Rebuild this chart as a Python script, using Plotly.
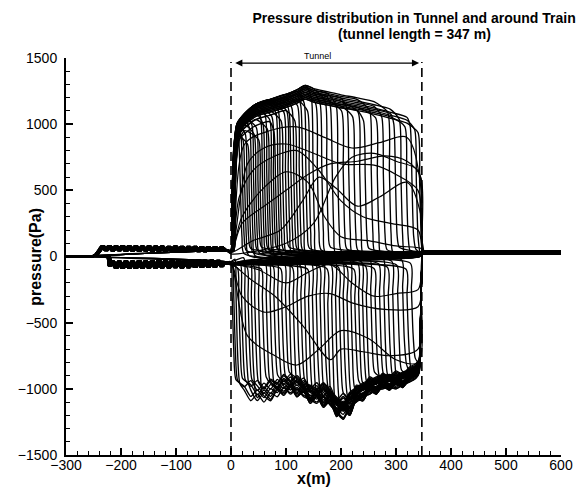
import plotly.graph_objects as go

# ---------------- text ----------------
title_line1 = "<b>Pressure distribution in Tunnel and around Train</b>"
title_line2 = "<b>(tunnel length = 347 m)</b>"
x_title = "<b>x(m)</b>"
y_title = "<b>pressure(Pa)</b>"
tunnel_label = "Tunnel"
x_ticks = [-300, -200, -100, 0, 100, 200, 300, 400, 500, 600]
y_ticks = [-1500, -1000, -500, 0, 500, 1000, 1500]
tunnel_start = 0
tunnel_end = 347
arrow_y = 1462
arrow_x = [5, 342]
dash_top = 1470

# ---------------- data ----------------
band_up_x = [-256, -248, -242, -236, -230, -224, -218, -212, -206, -200, -194, -188, -182, -176,
             -170, -164, -158, -152, -146, -140, -134, -128, -122, -116, -110, -104, -98, -92,
             -86, -80, -74, -68, -62, -56, -50, -44, -38, -32, -26, -20, -14, -8]
band_up_y = [0, 12, 45, 80, 45, 82, 42, 80, 44, 82, 40, 80, 42, 80,
             40, 78, 42, 80, 40, 78, 40, 78, 38, 76, 40, 78, 38, 76,
             38, 76, 40, 76, 38, 74, 38, 74, 40, 72, 40, 70, 50, 45]
band_lo_x = [-226, -223, -218, -212, -206, -200, -194, -188, -182, -176, -170, -164, -158, -152,
             -146, -140, -134, -128, -122, -116, -110, -104, -98, -92, -86, -80, -74, -68,
             -62, -56, -50, -44, -38, -32, -26, -20, -14, -8]
band_lo_y = [0, -70, -35, -88, -36, -90, -34, -88, -35, -90, -32, -88, -34, -86,
             -32, -88, -30, -86, -32, -86, -30, -84, -30, -86, -28, -84, -30, -82,
             -28, -82, -30, -80, -28, -80, -30, -76, -40, -55]
band_shift = [0, 1.5, 3, 4.5, 6, 0.8, 2.3, 3.8, 5.3]

top_x = [25, 45, 70, 100, 120, 135, 150, 175, 200, 230, 260, 290, 320, 340]
top_y = [1080, 1150, 1185, 1225, 1260, 1292, 1268, 1245, 1222, 1198, 1170, 1135, 1095, 1060]

up_front = [18, 22, 26, 30, 34, 38, 42, 46, 50, 54, 58, 62, 66, 70, 74, 78, 82, 86, 90, 95,
            100, 105, 110, 115, 120, 125, 131, 137, 143, 150, 158, 166, 175, 185, 195, 205, 215,
            225, 235, 245, 256, 267, 278, 289, 300, 310, 320, 330, 338, 344]
up_scale = [0.95, 0.97, 0.93, 0.98, 0.90, 0.96, 0.99, 0.92, 0.97, 0.88, 0.98, 0.94, 1.00, 0.90,
            0.97, 0.99, 0.86, 0.98, 1.00, 0.93, 0.99, 1.00, 0.95, 0.98, 0.90, 1.00, 0.97, 0.99,
            0.94, 1.00, 0.96, 0.98, 1.00, 0.97, 0.99, 0.95, 0.98, 0.93, 0.96, 0.92, 0.99, 0.94,
            0.97, 1.00, 0.95, 0.98, 0.93, 0.96, 0.94, 0.92]
up_post = [20, 45, 10, 60, 30, 5, 50, 25, 70, 15, 40, 55]
up_rise = [0, 1, 2, 3, 1, 4, 2, 0, 3, 5]

bot_x = [0, 12, 24, 36, 48, 60, 72, 84, 96, 108, 120, 132, 144, 156, 168, 180, 192, 204, 216,
         228, 240, 252, 264, 276, 288, 300, 312, 324, 336, 342]
bot_y_a = [-960, -1050, -1010, -1090, -1040, -1100, -1030, -1060, -990, -1040, -1000, -1060,
           -1080, -1110, -1060, -1120, -1180, -1230, -1140, -1100, -1060, -1040, -1010, -1000,
           -990, -1000, -970, -950, -920, -880]
bot_y_b = [-980, -1010, -1070, -1020, -1100, -1040, -1090, -1010, -1050, -990, -1060, -1020,
           -1110, -1060, -1140, -1090, -1210, -1150, -1200, -1080, -1090, -1010, -1040, -980,
           -1010, -960, -990, -930, -900, -860]
lo_front = [0, 3, 7, 12, 17, 23, 29, 35, 41, 48, 55, 62, 69, 76, 83, 90, 97, 104, 111, 118,
            125, 132, 139, 146, 153, 160, 167, 174, 181, 188, 195, 202, 209, 216, 223, 230, 237,
            244, 252, 260, 268, 276, 284, 292, 301, 310, 318, 326]
lo_scale = [0.97, 0.92, 1.00, 0.95, 0.90, 0.99, 0.94, 0.97, 0.91, 1.00, 0.93, 0.98, 0.95, 0.90,
            0.99, 0.96, 0.92, 1.00, 0.94, 0.97, 0.91, 0.99, 0.95, 0.93, 1.00, 0.96, 0.92, 0.98,
            0.94, 1.00, 0.95, 0.91, 0.98, 0.96, 0.93, 0.99, 0.95, 0.97, 0.92, 0.96, 0.94, 0.98,
            0.93, 0.97, 0.95, 0.92, 0.96, 0.94]
lo_pre = [-40, -70, -20, -90, -55, -10, -80, -35, -65, -25, -95, -50]

exit_level = [22, 30, 38, 28, 34, 26, 40]
exit_x = [352, 365, 400, 450, 500, 550, 600]

mid_curves = [
    ([-8, 0, 20, 60, 100, 140, 180, 230, 280, 320, 345],
     [40, 30, 250, 380, 500, 620, 700, 720, 760, 720, 600]),
    ([-8, 0, 15, 40, 80, 120, 160, 200, 240, 290, 340],
     [40, 30, 450, 650, 760, 800, 650, 420, 300, 250, 200]),
    ([-8, 0, 20, 60, 100, 140, 170, 200, 250, 300, 346],
     [40, 30, 300, 520, 640, 560, 300, 150, 120, 80, 60]),
    ([-8, 0, 100, 150, 190, 220, 260, 300, 340, 346],
     [40, 20, 100, 250, 600, 750, 780, 720, 650, 300]),
    ([-8, 0, 30, 60, 100, 150, 200, 260, 300, 340, 346],
     [40, 30, 700, 820, 850, 780, 700, 690, 620, 500, 250]),
    ([-8, 0, 35, 80, 130, 181, 200, 240, 290, 340, 346],
     [-40, -50, -170, -300, -520, -780, -700, -720, -750, -700, -300]),
    ([-8, 0, 50, 100, 140, 180, 220, 260, 300, 340, 346],
     [-40, -50, -100, -200, -120, -60, -200, -300, -280, -250, -120]),
    ([-8, 0, 20, 60, 100, 140, 180, 220, 280, 340, 346],
     [-40, -40, -300, -420, -380, -300, -280, -350, -400, -380, -200]),
    ([-8, 0, 40, 90, 130, 160, 190, 230, 270, 320, 346],
     [40, 30, 120, 200, 420, 600, 520, 380, 450, 560, 300]),
    ([-8, 0, 25, 70, 120, 170, 220, 270, 320, 346],
     [40, 30, 850, 950, 980, 900, 820, 860, 900, 500]),
    ([-8, 0, 30, 80, 120, 160, 200, 250, 300, 340, 346],
     [-40, -50, -600, -750, -820, -700, -560, -620, -780, -800, -300]),
]


def add_exit(xs, ys, e):
    xs.append(348.5)
    ys.append(e)
    for ex in exit_x:
        xs.append(ex)
        ys.append(e)


# ---------------- build polylines ----------------
def upper_curve(i):
    f = up_front[i]
    s = up_scale[i]
    sh = band_shift[i % len(band_shift)]
    r = up_rise[i % len(up_rise)]
    post = up_post[i % len(up_post)]
    xs, ys = [-300, -280], [0, 0]
    for bx, by in zip(band_up_x, band_up_y):
        xs.append(bx + sh)
        ys.append(by)
    h0 = top_y[0] * s
    xs += [r, r + 2, r + 5, r + 11]
    ys += [45, 0.42 * h0, 0.76 * h0, 0.94 * h0]
    for tx, ty in zip(top_x, top_y):
        if r + 15 < tx < f - 9:
            xs.append(tx)
            ys.append(ty * s)
    xl, yl = xs[-1], ys[-1]
    if f - 4 > xl:
        xs.append(f - 4)
        ys.append(yl * 0.93)
    xs += [f - 1, f + 2, f + 6]
    ys += [yl * 0.55, yl * 0.15, post]
    if f + 6 < 345:
        xs.append(345)
        ys.append(post * 0.5)
    add_exit(xs, ys, exit_level[i % len(exit_level)])
    return xs, ys


def lower_curve(j):
    a = lo_front[j]
    s = lo_scale[j]
    by_list = bot_y_a if j % 2 == 0 else bot_y_b
    sh = band_shift[j % len(band_shift)]
    pre = lo_pre[j % len(lo_pre)]
    xs, ys = [-300, -280], [0, 0]
    for bx, by in zip(band_lo_x, band_lo_y):
        xs.append(bx + sh)
        ys.append(by)
    if a > xs[-1] + 1:
        xs.append(a)
        ys.append(pre)
    env = [(bx, by * s) for bx, by in zip(bot_x, by_list) if bx > a + 12]
    c = env[0][1]
    xs += [a + 2, a + 5, a + 9]
    ys += [pre + 0.25 * (c - pre), 0.72 * c, 0.95 * c]
    for bx, by in env:
        xs.append(bx)
        ys.append(by)
    xs += [345, 347]
    ys += [ys[-1] * 0.5, -60]
    add_exit(xs, ys, exit_level[j % len(exit_level)])
    return xs, ys


step_x, step_y = [], []
for i in range(len(up_front)):
    cx, cy = upper_curve(i)
    step_x += cx + [None]
    step_y += cy + [None]
for j in range(len(lo_front)):
    cx, cy = lower_curve(j)
    step_x += cx + [None]
    step_y += cy + [None]

mid_x, mid_y = [], []
for k, (mx, my) in enumerate(mid_curves):
    xs = [-300, -280] + list(mx)
    ys = [0, 0] + list(my)
    add_exit(xs, ys, exit_level[k % len(exit_level)])
    mid_x += xs + [None]
    mid_y += ys + [None]

fig = go.Figure()
fig.add_trace(go.Scatter(x=step_x, y=step_y, mode="lines",
                         line=dict(color="black", width=1.35, shape="spline", smoothing=0.6),
                         hoverinfo="skip", showlegend=False, connectgaps=False))
fig.add_trace(go.Scatter(x=mid_x, y=mid_y, mode="lines",
                         line=dict(color="black", width=1.2, shape="spline", smoothing=0.9),
                         hoverinfo="skip", showlegend=False, connectgaps=False))

for xp in (tunnel_start, tunnel_end):
    fig.add_shape(type="line", xref="x", yref="y", x0=xp, x1=xp, y0=y_ticks[0], y1=dash_top,
                  line=dict(color="black", width=1.6, dash="9px,5px"))

fig.add_annotation(x=arrow_x[1], y=arrow_y, ax=arrow_x[0], ay=arrow_y, xref="x", yref="y",
                   axref="x", ayref="y", text="", showarrow=True, arrowhead=2, startarrowhead=2,
                   arrowside="end+start", arrowsize=1.1, startarrowsize=1.1, arrowwidth=1.3,
                   arrowcolor="black")
fig.add_annotation(x=158, y=arrow_y, xref="x", yref="y", text=tunnel_label, showarrow=False,
                   yanchor="bottom", font=dict(family="Liberation Sans", size=9, color="black"))

# title second line (paper coords: plot area spans px 58..455 vertically, 66..561 horizontally)
fig.add_annotation(x=(414 - 66) / 495, y=(455 - 34) / 397, xref="paper", yref="paper",
                   text=title_line2, showarrow=False, xanchor="center", yanchor="middle",
                   font=dict(family="Liberation Sans", size=14, color="black"))
fig.add_annotation(x=0.5, y=-0.058, xref="paper", yref="paper", text=x_title, showarrow=False,
                   yanchor="middle",
                   font=dict(family="Liberation Sans", size=16, color="black"))
fig.add_annotation(x=-0.062, y=0.5, xref="paper", yref="paper", text=y_title, showarrow=False,
                   textangle=-90, xanchor="center", yanchor="middle",
                   font=dict(family="Liberation Sans", size=16, color="black"))

axis_font = dict(family="Liberation Sans", size=14, color="black")
fig.update_layout(
    width=584, height=492,
    margin=dict(l=66, r=23, t=58, b=37),
    paper_bgcolor="white", plot_bgcolor="white",
    title=dict(text=title_line1, x=0.709, xref="container", xanchor="center",
               y=1 - 18 / 492, yref="container", yanchor="middle",
               font=dict(family="Liberation Sans", size=14, color="black")),
    xaxis=dict(range=[x_ticks[0], x_ticks[-1]], tickvals=x_ticks, ticks="inside", ticklen=7,
               tickwidth=1.5, tickcolor="black", showline=True, linewidth=2, linecolor="black",
               showgrid=False, zeroline=False, tickfont=axis_font, automargin=False,
               ticklabelstandoff=-4,
               minor=dict(ticks="inside", ticklen=4, dtick=20, tickwidth=1, tickcolor="black",
                          showgrid=False)),
    yaxis=dict(range=[y_ticks[0], y_ticks[-1]], tickvals=y_ticks, ticks="inside", ticklen=7,
               tickwidth=1.5, tickcolor="black", showline=True, linewidth=2, linecolor="black",
               showgrid=False, zeroline=False, tickfont=axis_font, automargin=False,
               ticklabelstandoff=4,
               minor=dict(ticks="inside", ticklen=4, dtick=100, tickwidth=1, tickcolor="black",
                          showgrid=False)),
)

fig.write_html("out.html")
